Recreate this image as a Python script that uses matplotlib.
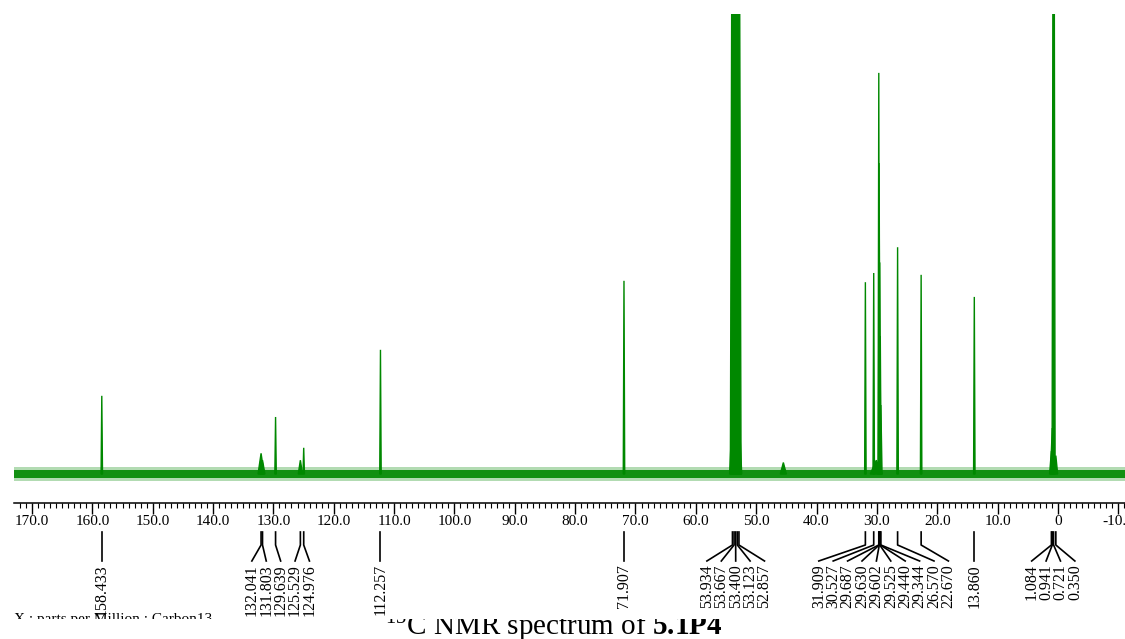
#!/usr/bin/env python3
"""13C NMR spectrum of 5.1P4 with peak-pick labels."""

from __future__ import annotations

import matplotlib

matplotlib.use("Agg")
import matplotlib.pyplot as plt
from matplotlib import transforms
from matplotlib.patches import Rectangle
from matplotlib.ticker import FuncFormatter, MultipleLocator


OUT_PATH = "out.png"
GREEN = "#008800"
SERIF = "Liberation Serif"

# spectrum lines: position (ppm), height (fraction of plot top), half width (ppm)
PEAK_PPM = [
    158.433, 132.041, 131.803, 129.639, 125.529, 124.976, 112.257, 71.907,
    53.400, 53.934, 53.667, 53.400, 53.123, 52.857, 45.500,
    31.909, 30.527, 30.100, 29.687, 29.630, 29.602, 29.525, 29.440, 29.344,
    26.570, 22.670, 13.860, 1.084, 0.941, 0.721, 0.350,
]
PEAK_HEIGHT = [
    0.170, 0.045, 0.030, 0.124, 0.030, 0.057, 0.270, 0.420,
    0.300, 1.600, 3.000, 3.500, 3.000, 1.600, 0.025,
    0.417, 0.437, 0.030, 0.872, 0.676, 0.560, 0.460, 0.300, 0.150,
    0.493, 0.433, 0.385, 0.050, 0.100, 2.000, 0.040,
]
PEAK_HALF_WIDTH = [
    0.12, 0.50, 0.40, 0.12, 0.35, 0.12, 0.12, 0.12,
    1.00, 0.35, 0.35, 0.35, 0.35, 0.35, 0.50,
    0.12, 0.12, 1.00, 0.12, 0.12, 0.12, 0.15, 0.15, 0.20,
    0.12, 0.12, 0.12, 0.30, 0.30, 0.25, 0.30,
]
NOISE_HALF = 0.009

# peak-pick labels
LABEL_PPM = [
    "158.433", "132.041", "131.803", "129.639", "125.529", "124.976",
    "112.257", "71.907", "53.934", "53.667", "53.400", "53.123", "52.857",
    "31.909", "30.527", "29.687", "29.630", "29.602", "29.525", "29.440",
    "29.344", "26.570", "22.670", "13.860", "1.084", "0.941", "0.721", "0.350",
]

X_MAJOR = 10.0
X_MINOR = 1.0
X_LEFT = 172.98
X_RIGHT = -11.11
AXIS_TITLE = "X : parts per Million : Carbon13"

W_PX, H_PX = 1125, 639
LABEL_GAP_PX = 14.4


def fy(px: float) -> float:
    """Pixel row (from top) to figure fraction."""
    return 1 - px / H_PX


def spread_labels(values: list[float], gap: float) -> list[float]:
    """Push crowded labels apart, keeping every cluster centred on its peaks."""
    clusters = [[v] for v in sorted(values, reverse=True)]
    changed = True
    while changed:
        changed = False
        placed = []
        for members in clusters:
            centre = sum(members) / len(members)
            placed.append([centre + gap * ((len(members) - 1) / 2 - i) for i in range(len(members))])
        for i in range(len(clusters) - 1):
            if placed[i][-1] - placed[i + 1][0] < gap:
                clusters[i] = clusters[i] + clusters[i + 1]
                del clusters[i + 1]
                changed = True
                break
    out = []
    for members in clusters:
        centre = sum(members) / len(members)
        out.extend(centre + gap * ((len(members) - 1) / 2 - i) for i in range(len(members)))
    return out


def draw_spectrum(ax: plt.Axes) -> None:
    """Baseline noise band plus one line shape per resonance."""
    ax.fill_between([X_LEFT, X_RIGHT], -NOISE_HALF * 1.7, NOISE_HALF * 1.7,
                    color=GREEN, alpha=0.3, linewidth=0, zorder=2)
    ax.fill_between([X_LEFT, X_RIGHT], -NOISE_HALF, NOISE_HALF,
                    color=GREEN, alpha=0.9, linewidth=0, zorder=2)
    for ppm, height, half in zip(PEAK_PPM, PEAK_HEIGHT, PEAK_HALF_WIDTH):
        ax.fill([ppm + half, ppm, ppm - half], [0, height, 0],
                facecolor=GREEN, edgecolor=GREEN, linewidth=1.0, zorder=3)


def style_axis(ax: plt.Axes) -> None:
    """Ruler-style ppm axis with no frame."""
    ax.set_xlim(X_LEFT, X_RIGHT)
    ax.set_ylim(-0.063, 1.0)
    for side in ["left", "right", "top"]:
        ax.spines[side].set_visible(False)
    ax.spines["bottom"].set_linewidth(1.1)
    ax.set_yticks([])
    ax.xaxis.set_major_locator(MultipleLocator(X_MAJOR))
    ax.xaxis.set_minor_locator(MultipleLocator(X_MINOR))
    ax.xaxis.set_major_formatter(FuncFormatter(lambda v, _: "0" if abs(v) < 1e-9 else f"{v:.1f}"))
    ax.tick_params(axis="x", which="major", length=8, width=1.0, pad=0.5,
                   labelsize=11, direction="out")
    ax.tick_params(axis="x", which="minor", length=3.5, width=0.8, direction="out")
    for label in ax.get_xticklabels():
        label.set_family(SERIF)


def draw_peak_labels(fig: plt.Figure, ax: plt.Axes) -> None:
    """Leader lines from each picked peak down to its rotated value."""
    values = [float(v) for v in LABEL_PPM]
    ppm_per_px = (X_LEFT - X_RIGHT) / (ax.get_position().width * W_PX)
    label_x = spread_labels(values, LABEL_GAP_PX * ppm_per_px)
    trans = transforms.blended_transform_factory(ax.transData, fig.transFigure)
    order = sorted(range(len(values)), key=lambda i: -values[i])
    for slot, idx in enumerate(order):
        peak = values[idx]
        lx = label_x[slot]
        ax.plot([peak, peak, lx], [fy(532), fy(545), fy(561)], color="black",
                linewidth=1.2, transform=trans, clip_on=False)
        ax.text(lx, fy(564), LABEL_PPM[idx], rotation=90, ha="center", va="top",
                fontsize=11.5, family=SERIF, transform=trans, clip_on=False)


def main() -> None:
    plt.rcParams["mathtext.fontset"] = "custom"
    plt.rcParams["mathtext.rm"] = SERIF
    plt.rcParams["mathtext.bf"] = f"{SERIF}:bold"

    fig = plt.figure(figsize=(W_PX / 100, H_PX / 100), dpi=100)
    ax = fig.add_axes([14 / W_PX, fy(503), 1 - 14 / W_PX, (503 - 14) / H_PX])
    draw_spectrum(ax)
    style_axis(ax)
    draw_peak_labels(fig, ax)

    fig.text(14 / W_PX, fy(613), AXIS_TITLE, ha="left", va="top", fontsize=11,
             family=SERIF)
    # caption strip hides the lower edge of the axis title
    fig.add_artist(Rectangle((0, 0), 1, fy(619), transform=fig.transFigure,
                             facecolor="white", edgecolor="none", zorder=5))
    caption = fig.text(554 / W_PX, fy(634), r"$^{13}$C NMR spectrum of $\mathbf{5.1P4}$",
                       ha="center", va="baseline", fontsize=21, family=SERIF, zorder=6)
    clip = transforms.TransformedBbox(
        transforms.Bbox([[0, 0], [1, fy(619)]]), fig.transFigure)
    caption.set_clip_box(clip)
    caption.set_clip_on(True)

    fig.savefig(OUT_PATH, dpi=100)
    plt.close(fig)


if __name__ == "__main__":
    main()
